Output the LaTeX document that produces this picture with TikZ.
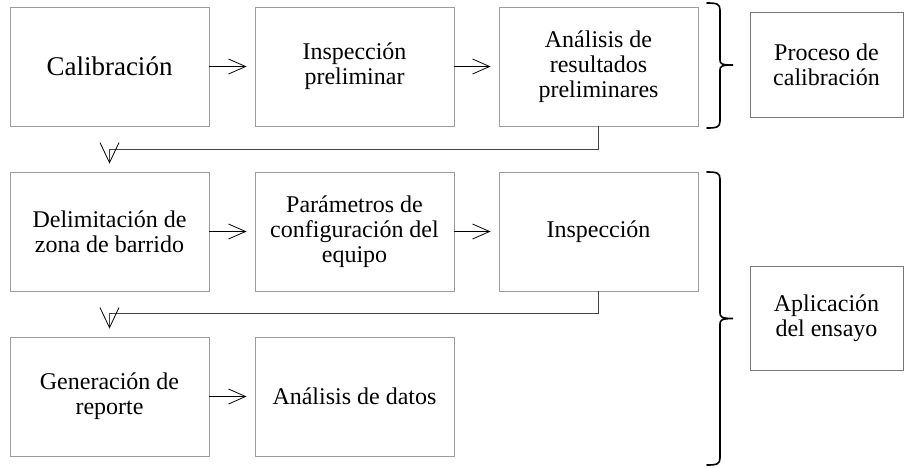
\documentclass[tikz,border=0pt]{standalone}
\usepackage{fontspec}
\setmainfont{Liberation Serif}
\usetikzlibrary{arrows.meta}
\definecolor{boxgray}{HTML}{9C9C9C}
\definecolor{sidegray}{HTML}{777777}
\definecolor{conngray}{HTML}{454545}
\begin{document}
\begin{tikzpicture}[x=1pt,y=-1pt,
  box/.style={draw=boxgray,line width=0.9pt,minimum width=199pt,minimum height=119pt,
    align=center,inner sep=2pt,font=\fontsize{24}{25}\selectfont},
  sidebox/.style={draw=sidegray,line width=1pt,minimum width=153pt,
    align=center,inner sep=2pt,font=\fontsize{24}{25}\selectfont},
  flow/.style={line width=0.8pt,-{Straight Barb[length=17pt,width=15pt,line width=0.8pt]},shorten >=8pt},
  loopback/.style={draw=conngray,line width=1.2pt,-{Straight Barb[length=20pt,width=19pt,line width=0.8pt,color=black]},shorten >=8pt},
  brace/.style={line width=1.6pt,line cap=round}]
\useasboundingbox (0,0) rectangle (904,467);
% row 1
\node[box,font=\fontsize{27}{28}\selectfont] (b1) at (109.5,66.5) {Calibración};
\node[box] (b2) at (354.5,66.5) {Inspección\\preliminar};
\node[box] (b3) at (598.5,66.5) {Análisis de\\resultados\\preliminares};
% row 2
\node[box] (b4) at (109.5,231.5) {Delimitación de\\zona de barrido};
\node[box] (b5) at (354.5,231.5) {Parámetros de\\configuración del\\equipo};
\node[box] (b6) at (598.5,231.5) {Inspección};
% row 3
\node[box] (b7) at (109.5,396.5) {Generación de\\reporte};
\node[box] (b8) at (354.5,396.5) {Análisis de datos};
% side boxes
\node[sidebox,minimum height=105pt] (p1) at (826.5,64.5) {Proceso de\\calibración};
\node[sidebox,minimum height=104pt] (p2) at (826.5,318) {Aplicación\\del ensayo};
% horizontal arrows
\draw[flow] (b1.east) -- (b2.west);
\draw[flow] (b2.east) -- (b3.west);
\draw[flow] (b4.east) -- (b5.west);
\draw[flow] (b5.east) -- (b6.west);
\draw[flow] (b7.east) -- (b8.west);
% loop-back connectors
\draw[loopback] (b3.south) -- ++(0,23) -| (b4.north);
\draw[loopback] (b6.south) -- ++(0,22) -| (b7.north);
% braces
\draw[brace] (707,3) .. controls (717,3) and (720,4) .. (720,10) -- (720,60)
  .. controls (720,64) and (722,65) .. (733,65)
  .. controls (722,65) and (720,66) .. (720,70) -- (720,121)
  .. controls (720,127) and (717,128) .. (707,128);
\draw[brace] (707,172) .. controls (717,172) and (720,173) .. (720,179) -- (720,313)
  .. controls (720,317) and (722,318.5) .. (733,318.5)
  .. controls (722,318.5) and (720,320) .. (720,324) -- (720,458)
  .. controls (720,464) and (717,465) .. (707,465);
\end{tikzpicture}
\end{document}
